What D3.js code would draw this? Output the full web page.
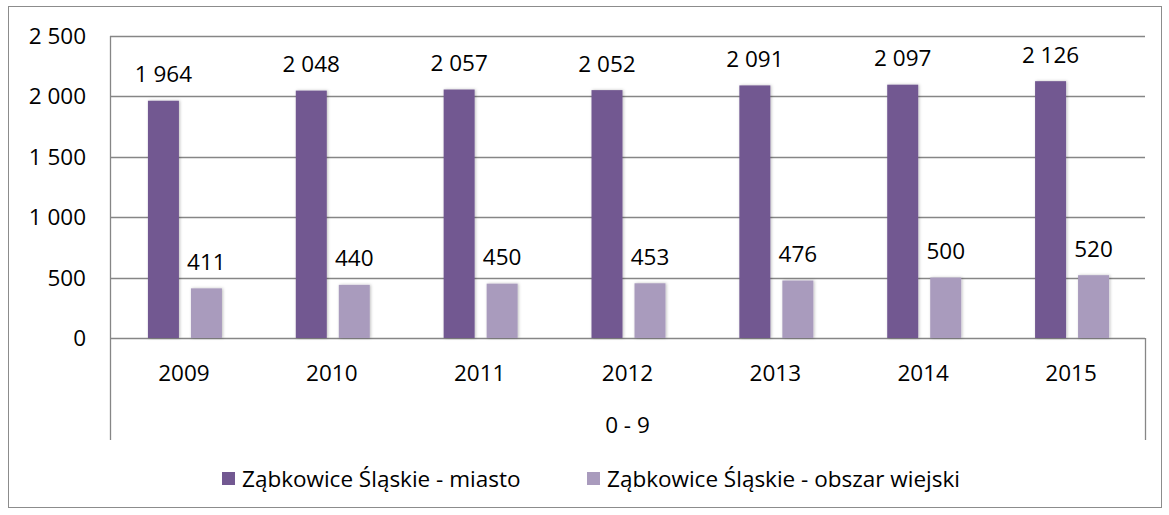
<!DOCTYPE html>
<html>
<head>
<meta charset="utf-8">
<script src="https://cdn.jsdelivr.net/npm/d3@7"></script>
<style>
  body { margin: 0; background: #fff; }
  text { font-family: "Open Sans", "Liberation Sans", sans-serif; fill: #000; }
</style>
</head>
<body>
<div id="chart"></div>
<script>
  // chart data
  const years = ["2009", "2010", "2011", "2012", "2013", "2014", "2015"];
  const seriesNames = ["Ząbkowice Śląskie - miasto", "Ząbkowice Śląskie - obszar wiejski"];
  const miasto = [1964, 2048, 2057, 2052, 2091, 2097, 2126];
  const wiejski = [411, 440, 450, 453, 476, 500, 520];
  const yTicks = [0, 500, 1000, 1500, 2000, 2500];
  const groupLabel = "0 - 9";
  const colors = ["#725891", "#a99bbd"];

  const W = 1169, H = 515;
  const plot = { left: 110, right: 1145, top: 36, bottom: 338 };
  const fs = 22.5;

  const svg = d3.select("#chart").append("svg")
    .attr("width", W).attr("height", H);

  // soft shadow like the office chart
  const defs = svg.append("defs");
  defs.append("filter").attr("id", "shadow")
    .attr("x", "-30%").attr("y", "-10%").attr("width", "160%").attr("height", "120%")
    .append("feDropShadow")
    .attr("dx", 1).attr("dy", 0).attr("stdDeviation", 1.6)
    .attr("flood-color", "#000").attr("flood-opacity", 0.25);

  // outer frame
  svg.append("rect")
    .attr("x", 8.5).attr("y", 6.5).attr("width", 1153).attr("height", 501)
    .attr("fill", "none").attr("stroke", "#8c8c8c").attr("stroke-width", 1);

  const x0 = d3.scaleBand().domain(years).range([plot.left, plot.right]);
  const bw = x0.bandwidth();
  const x1 = d3.scaleBand().domain([0, 1])
    .range([bw / 2 - 36, bw / 2 + 38]).paddingInner(0.279);
  const y = d3.scaleLinear().domain([0, 2500]).range([plot.bottom, plot.top]);

  // gridlines
  svg.append("g").selectAll("line").data(yTicks).join("line")
    .attr("x1", plot.left).attr("x2", plot.right)
    .attr("y1", d => Math.round(y(d)) + 0.5).attr("y2", d => Math.round(y(d)) + 0.5)
    .attr("stroke", "#868686").attr("stroke-width", 1.3);

  // y axis labels
  const fmt = d => d3.format(",")(d).replace(/,/g, " ");
  svg.append("g").selectAll("text").data(yTicks).join("text")
    .attr("x", 86).attr("y", d => y(d) + 8)
    .attr("text-anchor", "end").attr("font-size", fs)
    .text(fmt);

  // axis lines (left full height, right only across category area)
  svg.append("line").attr("x1", plot.left + 0.5).attr("x2", plot.left + 0.5)
    .attr("y1", plot.top).attr("y2", 440).attr("stroke", "#868686").attr("stroke-width", 1.3);
  svg.append("line").attr("x1", plot.right + 0.5).attr("x2", plot.right + 0.5)
    .attr("y1", plot.bottom).attr("y2", 440).attr("stroke", "#868686").attr("stroke-width", 1.3);

  const rows = years.map((yr, i) => ({ year: yr, vals: [miasto[i], wiejski[i]] }));

  const groups = svg.append("g").selectAll("g").data(rows).join("g")
    .attr("transform", d => `translate(${x0(d.year)},0)`);

  groups.selectAll("rect").data(d => d.vals.map((v, k) => ({ v, k }))).join("rect")
    .attr("x", d => x1(d.k)).attr("width", x1.bandwidth())
    .attr("y", d => y(d.v)).attr("height", d => y(0) - y(d.v))
    .attr("fill", d => colors[d.k])
    .attr("filter", "url(#shadow)");

  groups.selectAll("text.val").data(d => d.vals.map((v, k) => ({ v, k }))).join("text")
    .attr("class", "val")
    .attr("x", d => x1(d.k) + x1.bandwidth() / 2)
    .attr("y", d => y(d.v) - 18.5)
    .attr("text-anchor", "middle").attr("font-size", fs)
    .text(d => fmt(d.v));

  // category labels
  svg.append("g").selectAll("text").data(years).join("text")
    .attr("x", d => x0(d) + bw / 2).attr("y", 381)
    .attr("text-anchor", "middle").attr("font-size", fs)
    .text(d => d);

  svg.append("text")
    .attr("x", (plot.left + plot.right) / 2).attr("y", 433)
    .attr("text-anchor", "middle").attr("font-size", fs)
    .text(groupLabel);

  // legend
  const legendX = [222, 587];
  const legend = svg.append("g").selectAll("g").data(seriesNames).join("g")
    .attr("transform", (d, i) => `translate(${legendX[i]},472)`);
  legend.append("rect").attr("width", 13).attr("height", 13)
    .attr("fill", (d, i) => colors[i]);
  legend.append("text").attr("x", 20).attr("y", 15).attr("font-size", fs)
    .text(d => d);
</script>
</body>
</html>
